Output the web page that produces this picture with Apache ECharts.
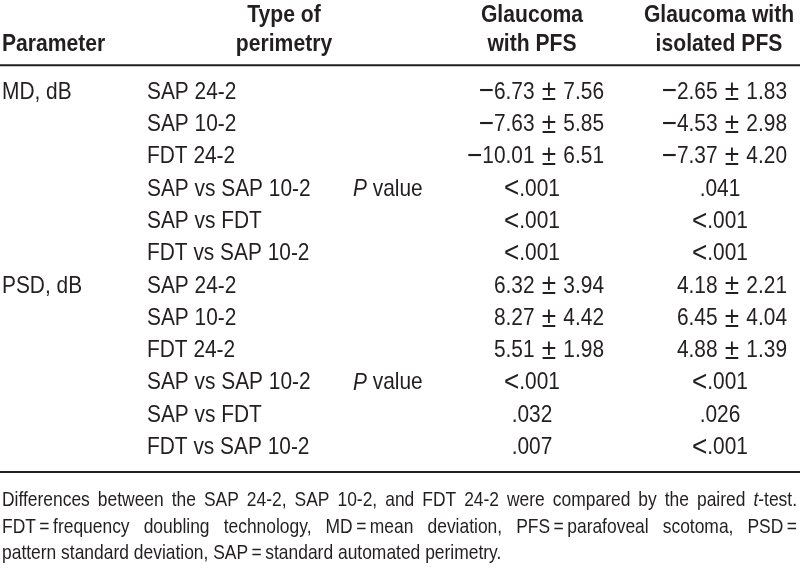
<!DOCTYPE html>
<html>
<head>
<meta charset="utf-8">
<script src="https://cdn.jsdelivr.net/npm/echarts@6/dist/echarts.min.js"></script>
<style>
html,body{margin:0;padding:0;background:#fff;}
#main{width:800px;height:570px;}
</style>
</head>
<body>
<div id="main"></div>
<script>
// ---- Data ----
const headerTop = ['', 'Type of', 'Glaucoma', 'Glaucoma with'];
const headerBottom = ['Parameter', 'perimetry', 'with PFS', 'isolated PFS'];
const parameters = ['MD, dB', '', '', '', '', '', 'PSD, dB', '', '', '', '', ''];
const perimetry = ['SAP 24-2', 'SAP 10-2', 'FDT 24-2', 'SAP vs SAP 10-2', 'SAP vs FDT', 'FDT vs SAP 10-2',
                   'SAP 24-2', 'SAP 10-2', 'FDT 24-2', 'SAP vs SAP 10-2', 'SAP vs FDT', 'FDT vs SAP 10-2'];
const testLabel = ['', '', '', 'P value', '', '', '', '', '', 'P value', '', ''];
const pfsMean = [-6.73, -7.63, -10.01, null, null, null, 6.32, 8.27, 5.51, null, null, null];
const pfsSD   = [7.56, 5.85, 6.51, null, null, null, 3.94, 4.42, 1.98, null, null, null];
const pfsP    = ['', '', '', '<.001', '<.001', '<.001', '', '', '', '<.001', '.032', '.007'];
const isoMean = [-2.65, -4.53, -7.37, null, null, null, 4.18, 6.45, 4.88, null, null, null];
const isoSD   = [1.83, 2.98, 4.20, null, null, null, 2.21, 4.04, 1.39, null, null, null];
const isoP    = ['', '', '', '.041', '<.001', '<.001', '', '', '', '<.001', '.026', '<.001'];
const footLine1 = ['Differences','between','the','SAP','24-2,','SAP','10-2,','and','FDT','24-2','were','compared','by','the','paired','{i|t}-test.'];
const footLine2 = ['FDT\u2009=\u2009frequency','doubling','technology,','MD\u2009=\u2009mean','deviation,','PFS\u2009=\u2009parafoveal','scotoma,','PSD\u2009='];
const footLine3 = 'pattern standard deviation, SAP\u2009=\u2009standard automated perimetry.';

// ---- Layout / style ----
const FAM = '"Liberation Sans", Arial, sans-serif';
const COLOR = '#231f20';
const BODY = 24, SYM = 30, FOOT = 21;
const SX_BODY = 0.87, SX_BOLD = 0.88, SX_FOOT = 0.83;
const fmt = v => (v < 0 ? '{s|\u2212}' : '') + Math.abs(v).toFixed(2);
const ms = (m, s) => (m == null ? '' : fmt(m) + '{s| \u00b1 }' + s.toFixed(2));
const pv = t => t.replace('<', '{s|<}');

const cells = [];
function add(x, row, text, align, bold) { if (text) cells.push({ value: [x, row], text, align, bold }); }
const HROW1 = -2.38, HROW2 = -1.47;
// header
add(2, HROW2, headerBottom[0], 'left', true);
add(284, HROW1, headerTop[1], 'center', true);
add(284, HROW2, headerBottom[1], 'center', true);
add(532, HROW1, headerTop[2], 'center', true);
add(532, HROW2, headerBottom[2], 'center', true);
add(719, HROW1, headerTop[3], 'center', true);
add(719, HROW2, headerBottom[3], 'center', true);
// body
for (let i = 0; i < perimetry.length; i++) {
  add(2, i, parameters[i], 'left');
  add(147, i, perimetry[i], 'left');
  add(353, i, testLabel[i] ? testLabel[i].replace(/^P/, '{i|P}') : '', 'left');
  add(604, i, ms(pfsMean[i], pfsSD[i]), 'right');
  add(532, i, pv(pfsP[i]), 'center');
  add(787, i, ms(isoMean[i], isoSD[i]), 'right');
  add(720, i, pv(isoP[i]), 'center');
}
const rules = [{ value: [0, -0.835], w: 2 }, { value: [0, 11.76], w: 2 }];

// ---- Footnote justification ----
const mctx = document.createElement('canvas').getContext('2d');
function wordWidth(word, size) {
  let total = 0;
  const parts = word.split(/(\{i\|[^}]*\})/);
  for (const p of parts) {
    if (!p) continue;
    const m = p.match(/^\{i\|(.*)\}$/);
    mctx.font = (m ? 'italic ' : '') + size + 'px ' + FAM;
    total += mctx.measureText(m ? m[1] : p).width;
  }
  return total * SX_FOOT;
}
const graphics = [];
function footText(text, x, y) {
  graphics.push({ type: 'text', x: x, y: y, scaleX: SX_FOOT, silent: true,
    style: { text: text, fill: COLOR, font: FOOT + 'px ' + FAM, align: 'left', verticalAlign: 'middle',
             rich: { i: { fontStyle: 'italic', fontSize: FOOT, fontFamily: FAM, fill: COLOR } } } });
}
function justified(words, y, left, right) {
  const widths = words.map(w => wordWidth(w, FOOT));
  const sum = widths.reduce((a, b) => a + b, 0);
  const gap = (right - left - sum) / (words.length - 1);
  let x = left;
  words.forEach((w, k) => { footText(w, x, y); x += widths[k] + gap; });
}
justified(footLine1, 500, 2, 797);
justified(footLine2, 527, 2, 797);
footText(footLine3, 2, 553);

const richBody = {
  i: { fontStyle: 'italic', fontSize: BODY, fontFamily: FAM, fill: COLOR },
  s: { fontSize: SYM, fontFamily: FAM, fill: COLOR, verticalAlign: 'middle' }
};

const chart = echarts.init(document.getElementById('main'), null, { renderer: 'canvas' });
chart.setOption({
  animation: false,
  backgroundColor: '#fff',
  grid: { left: 0, right: 0, top: 76, height: 387.6 },
  xAxis: { type: 'value', min: 0, max: 800, show: false },
  yAxis: { type: 'value', min: -0.5, max: 11.5, inverse: true, show: false },
  graphic: graphics,
  series: [
    {
      type: 'custom', silent: true, clip: false,
      data: cells.map(c => c.value),
      renderItem: function (params, api) {
        const c = cells[params.dataIndex];
        const p = api.coord([api.value(0), api.value(1)]);
        return { type: 'text', x: p[0], y: p[1], scaleX: c.bold ? SX_BOLD : SX_BODY,
          style: { text: c.text, fill: COLOR,
            font: (c.bold ? 'bold ' : '') + BODY + 'px ' + FAM,
            align: c.align, verticalAlign: 'middle', rich: richBody } };
      }
    },
    {
      type: 'custom', silent: true, clip: false,
      data: rules.map(r => r.value),
      renderItem: function (params, api) {
        const p0 = api.coord([0, api.value(1)]);
        const p1 = api.coord([800, api.value(1)]);
        return { type: 'line', shape: { x1: p0[0], y1: p0[1], x2: p1[0], y2: p1[1] },
          style: { stroke: '#231f20', lineWidth: rules[params.dataIndex].w } };
      }
    }
  ]
});
</script>
</body>
</html>
